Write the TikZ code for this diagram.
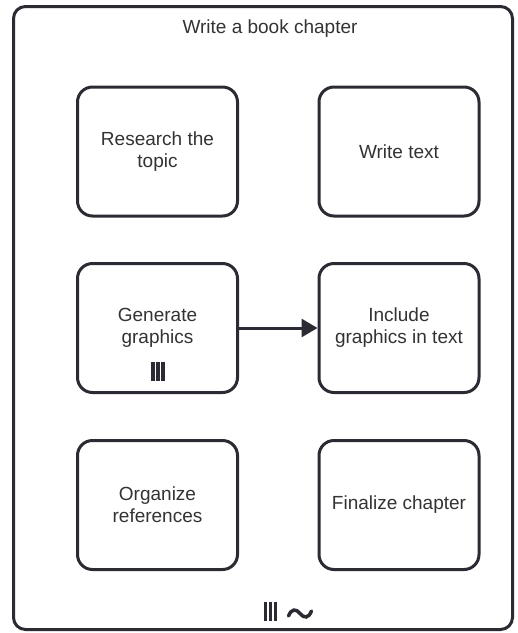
\documentclass[tikz,border=0pt]{standalone}
\usepackage{fontspec}
\setmainfont{Liberation Sans}
\usetikzlibrary{arrows.meta}
\definecolor{ln}{HTML}{2B2B33}
\definecolor{tx}{HTML}{333333}
\begin{document}
\begin{tikzpicture}[x=1pt,y=-1pt,
  taskbox/.style={draw=ln,line width=3pt,rounded corners=15pt,minimum width=160pt,minimum height=129pt,
    align=center,text=tx,font=\fontsize{19}{22}\selectfont,inner sep=0pt},
  flow/.style={draw=ln,line width=3pt,-{Triangle[length=16pt,width=18pt]}},
  bar/.style={fill=ln,draw=none}]
\useasboundingbox (0,0) rectangle (518,633);
\fill[white] (0,0) rectangle (518,633);
\node[draw=ln,line width=3pt,rounded corners=12pt,minimum width=499pt,minimum height=623pt,inner sep=0pt] (outer) at (263,318) {};
\node[text=tx,font=\fontsize{19}{22}\selectfont,inner sep=0pt] (title) at (270,29) {Write a book chapter};
\node[taskbox] (research) at (157.5,151.5) {Research the\\topic};
\node[taskbox] (write) at (399,151.5) {Write text};
\node[taskbox] (generate) at (157.5,328) {Generate\\graphics};
\node[taskbox] (include) at (399,328) {Include\\graphics in text};
\node[taskbox] (organize) at (157.5,505) {Organize\\references};
\node[taskbox] (finalize) at (399,505) {Finalize chapter};
\draw[flow] (generate.east) -- (include.west);
% multi-instance marker in Generate graphics
\fill[bar] (151,362) rectangle (154.5,381);
\fill[bar] (156,362) rectangle (159.5,381);
\fill[bar] (161,362) rectangle (164.5,381);
% markers of the outer subprocess
\fill[bar] (263.5,602) rectangle (267,621);
\fill[bar] (268.5,602) rectangle (272,621);
\fill[bar] (273.5,602) rectangle (277,621);
\draw[ln,line width=3.5pt,line cap=round] (288.5,616) .. controls (291.5,608.5) and (296,608.5) .. (300,613.5) .. controls (304,618.5) and (308.5,618.5) .. (311.5,611);
\end{tikzpicture}
\end{document}
